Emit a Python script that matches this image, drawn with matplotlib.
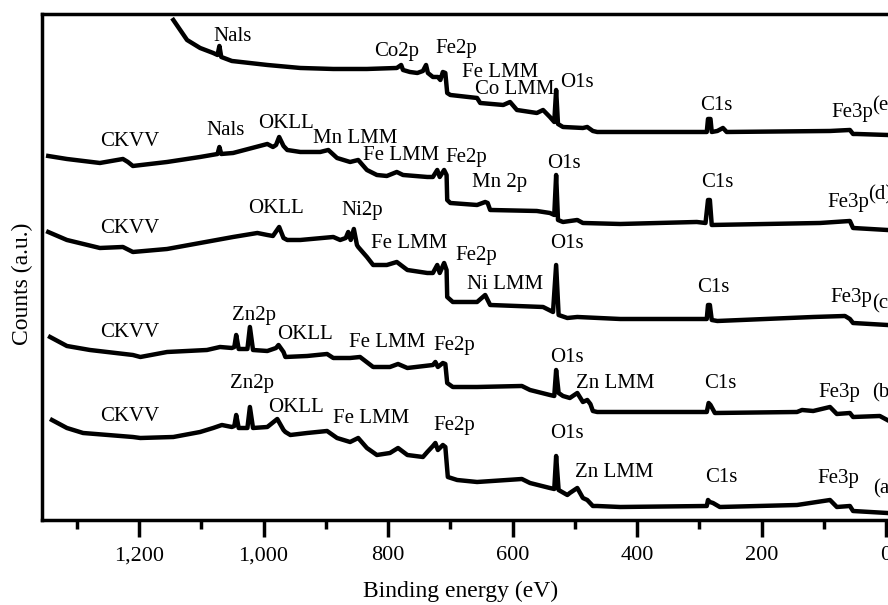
import matplotlib
matplotlib.use("Agg")
import matplotlib.pyplot as plt
from matplotlib.ticker import MultipleLocator, FuncFormatter

# XPS survey spectra (binding energy in eV, counts in a.u.)
energy_a = [1340, 1316, 1290, 1210, 1198, 1145, 1102, 1081, 1067, 1051, 1047, 1044, 1040, 1026, 1022,
            1017, 994, 978, 968, 965, 957, 930, 898, 882, 861, 848, 834, 818, 797, 784, 769, 744, 737,
            728, 724, 720, 712, 708, 704, 689, 657, 585, 572, 540, 533, 530, 526, 512, 508, 496, 487,
            480, 471, 464, 427, 288, 286, 283, 278, 267, 143, 90, 79, 58, 53, -2]
counts_a = [180, 172, 167, 163, 162, 163, 168, 172, 175, 173, 174, 185, 172, 172, 193,
            172, 173, 181, 170, 168, 165, 167, 169, 162, 158, 162, 152, 145, 147, 152, 145, 143, 148,
            154, 157, 150, 155, 153, 123, 120, 118, 121, 117, 112, 111, 144, 110, 105, 107, 112, 102,
            100, 94, 94, 93, 94, 100, 98, 97, 93, 95, 100, 93, 94, 89, 87]

energy_b = [1343, 1316, 1279, 1210, 1198, 1155, 1091, 1070, 1051, 1047, 1044, 1040, 1026, 1022, 1017,
            994, 980, 976, 968, 965, 930, 898, 888, 861, 845, 824, 797, 784, 769, 728, 724, 720, 712,
            708, 705, 696, 657, 585, 572, 540, 533, 530, 526, 519, 508, 496, 487, 480, 475, 471, 464,
            427, 288, 285, 282, 275, 143, 135, 117, 90, 79, 58, 53, 10, -2]
counts_b = [263, 254, 250, 245, 243, 248, 250, 253, 252, 253, 265, 251, 251, 273, 250,
            249, 252, 255, 248, 243, 244, 246, 242, 242, 243, 233, 233, 236, 232, 235, 238, 233, 237,
            236, 217, 213, 213, 214, 210, 205, 204, 230, 207, 204, 202, 207, 198, 200, 196, 189, 188,
            188, 188, 197, 195, 187, 188, 190, 189, 193, 186, 187, 183, 184, 180]

energy_c = [1346, 1316, 1263, 1226, 1210, 1155, 1102, 1049, 1010, 994, 985, 975, 968, 962, 941, 888,
            877, 868, 864, 860, 855, 850, 848, 834, 824, 802, 786, 769, 737, 728, 721, 717, 710, 706,
            705, 696, 657, 644, 636, 551, 535, 530, 526, 512, 496, 427, 288, 286, 283, 280, 271, 117,
            66, 58, 53, -2]
counts_c = [368, 360, 352, 353, 348, 351, 357, 363, 367, 365, 364, 373, 362, 360, 360, 363,
            360, 362, 368, 360, 371, 355, 353, 343, 335, 335, 338, 330, 327, 327, 335, 327, 337, 330,
            303, 298, 298, 305, 295, 293, 288, 335, 285, 282, 283, 281, 281, 295, 295, 280, 279, 283,
            284, 281, 277, 275]

energy_d = [1346, 1316, 1263, 1226, 1218, 1210, 1155, 1102, 1074, 1071, 1068, 1049, 994, 985, 980,
            975, 968, 962, 941, 909, 896, 882, 861, 848, 834, 818, 802, 786, 776, 737, 728, 721, 717,
            710, 706, 705, 700, 657, 644, 640, 636, 561, 540, 533, 530, 527, 519, 496, 487, 427, 304,
            290, 286, 283, 280, 106, 58, 53, -2]
counts_d = [444, 441, 437, 441, 438, 434, 438, 443, 446, 453, 446, 447, 456, 453, 455,
            463, 454, 450, 448, 448, 450, 442, 438, 440, 430, 425, 424, 428, 425, 423, 423, 430, 423,
            430, 425, 400, 397, 395, 398, 397, 390, 389, 387, 385, 425, 380, 378, 380, 377, 376, 378,
            377, 400, 400, 375, 377, 379, 372, 370]

energy_e = [1145, 1123, 1102, 1081, 1074, 1071, 1068, 1051, 994, 941, 888, 834, 786, 779, 776, 765,
            753, 744, 739, 736, 728, 720, 716, 712, 708, 705, 700, 657, 652, 615, 604, 593, 561, 551,
            540, 533, 530, 527, 519, 487, 480, 471, 464, 427, 288, 286, 282, 280, 271, 262, 256, 90,
            58, 53, 47, -2]
counts_e = [580, 560, 552, 547, 545, 554, 543, 539, 535, 532, 531, 531, 532, 535, 530, 528,
            527, 529, 535, 527, 523, 523, 520, 528, 527, 507, 505, 502, 497, 495, 498, 490, 487, 490,
            483, 478, 510, 476, 473, 472, 473, 469, 468, 468, 468, 481, 481, 468, 469, 472, 468, 469,
            470, 466, 466, 465]

# peak labels: (text, energy, counts at baseline of text)
labels_a = [("CKVV", 1263, 179), ("Zn2p", 1054, 212), ("OKLL", 993, 188), ("Fe LMM", 888, 177),
            ("Fe2p", 728, 170), ("O1s", 540, 162), ("Zn LMM", 500, 123), ("C1s", 291, 118),
            ("Fe3p", 111, 117), ("(a)", 21, 107)]
labels_b = [("CKVV", 1263, 263), ("Zn2p", 1051, 280), ("OKLL", 978, 261), ("Fe LMM", 863, 253),
            ("Fe2p", 728, 250), ("O1s", 540, 238), ("Zn LMM", 498, 212), ("C1s", 292, 212),
            ("Fe3p", 109, 203), ("(b)", 22, 203)]
labels_c = [("CKVV", 1263, 367), ("OKLL", 1025, 387), ("Ni2p", 875, 385), ("Fe LMM", 827, 352),
            ("Fe2p", 692, 340), ("Ni LMM", 673, 311), ("O1s", 540, 352), ("C1s", 304, 308),
            ("Fe3p", 90, 298), ("(c)", 23, 292)]
labels_d = [("CKVV", 1263, 454), ("Nals", 1092, 465), ("OKLL", 1009, 472), ("Mn LMM", 920, 457),
            ("Fe LMM", 840, 440), ("Fe2p", 708, 438), ("Mn 2p", 665, 413), ("O1s", 545, 432),
            ("C1s", 297, 413), ("Fe3p", 95, 393), ("(d)", 28, 400)]
labels_e = [("Nals", 1080, 559), ("Co2p", 822, 544), ("Fe2p", 724, 547), ("Fe LMM", 681, 523),
            ("Co LMM", 660, 506), ("O1s", 524, 513), ("C1s", 299, 490), ("Fe3p", 87, 483),
            ("(e)", 22, 489)]

plt.rcParams['font.family'] = ['Liberation Serif', 'DejaVu Serif']

fig = plt.figure(figsize=(8.88, 6.05), dpi=100)
# axes run past the right edge, as in the cropped original
ax = fig.add_axes([0.0473, 0.1405, 0.9715, 0.8364])

spectra = [(energy_a, counts_a), (energy_b, counts_b), (energy_c, counts_c),
           (energy_d, counts_d), (energy_e, counts_e)]
for energy, counts in spectra:
    ax.plot(energy, counts, color='black', lw=3.2, solid_joinstyle='round')

for labels in [labels_a, labels_b, labels_c, labels_d, labels_e]:
    for text, x, y in labels:
        ax.text(x, y, text, fontsize=15, ha='left', va='baseline')

ax.set_xlim(1356, -30)
ax.set_ylim(80, 586)
ax.set_yticks([])
ax.xaxis.set_major_locator(MultipleLocator(200))
ax.xaxis.set_minor_locator(MultipleLocator(100))
ax.xaxis.set_major_formatter(FuncFormatter(lambda v, pos: '{:,.0f}'.format(v)))
ax.tick_params(axis='x', which='major', direction='out', length=12, width=2.5,
               labelsize=16, pad=7)
ax.tick_params(axis='x', which='minor', direction='out', length=6.5, width=2.5)
for side in ax.spines.values():
    side.set_linewidth(2.5)

ax.set_xlabel('Binding energy (eV)', fontsize=17, va='center')
ax.xaxis.set_label_coords(0.485, -0.142)
ax.set_ylabel('Counts (a.u.)', fontsize=17, va='center')
ax.yaxis.set_label_coords(-0.023, 0.467)

fig.savefig('out.png', dpi=100)
